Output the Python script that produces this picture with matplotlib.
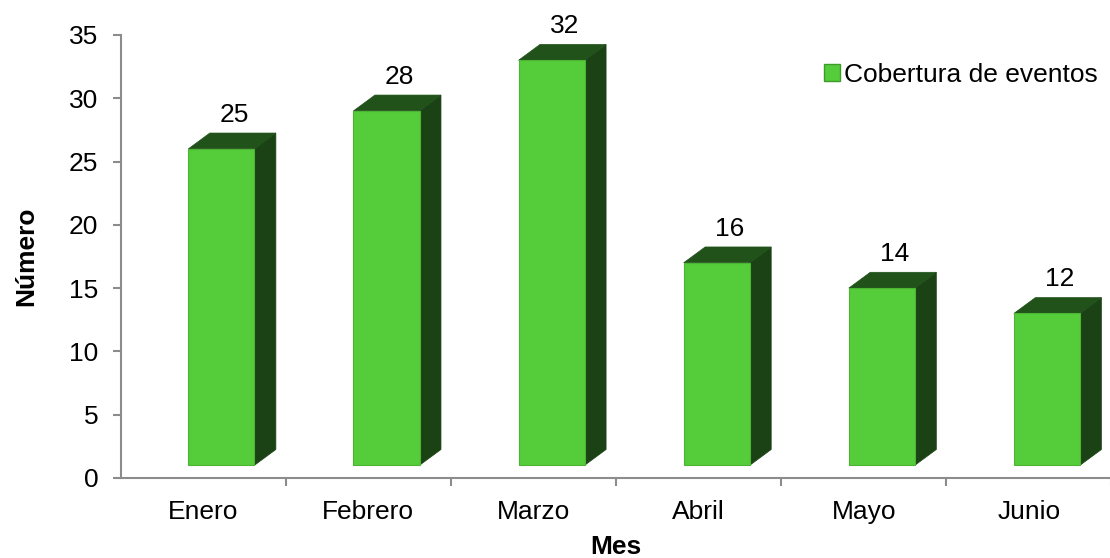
import matplotlib
matplotlib.use("Agg")
import matplotlib.pyplot as plt
from matplotlib.patches import Polygon, Patch

plt.rcParams['font.family'] = ['Liberation Sans', 'DejaVu Sans']

# datos
meses = ["Enero", "Febrero", "Marzo", "Abril", "Mayo", "Junio"]
valores = [25, 28, 32, 16, 14, 12]
serie = "Cobertura de eventos"

# colores de las caras del prisma
c_front = "#55cc3a"
c_top = "#20521a"
c_side = "#1b4214"
c_axis = "#8c8c8c"

# geometria de la barra "3D" (estilo Excel)
base = 1.0      # la cara frontal arranca un poco por encima de 0
x0, x1 = -0.09, 0.31   # cara frontal relativa al centro de categoria
dx, dy = 0.13, 1.25    # profundidad
fs = 19

fig = plt.figure(figsize=(11.1, 5.58), dpi=100)
ax = fig.add_axes([0.1087, 0.1434, 0.8925, 0.794])

for i, v in enumerate(valores):
    top = v + base
    front = Polygon([(i + x0, base), (i + x1, base), (i + x1, top), (i + x0, top)],
                    closed=True, fc=c_front, ec="#4bb533", lw=0.8, zorder=3)
    side = Polygon([(i + x1, base), (i + x1 + dx, base + dy), (i + x1 + dx, top + dy), (i + x1, top)],
                   closed=True, fc=c_side, ec=c_side, lw=0.5, zorder=2)
    tapa = Polygon([(i + x0, top), (i + x1, top), (i + x1 + dx, top + dy), (i + x0 + dx, top + dy)],
                   closed=True, fc=c_top, ec=c_top, lw=0.5, zorder=2)
    for p in (side, tapa, front):
        ax.add_patch(p)
    ax.text(i + 0.19, v + 3.7, str(v), ha="center", va="center", fontsize=fs, color="black")

ax.set_xlim(-0.5, 5.5)
ax.set_ylim(0, 35)
ax.set_yticks(range(0, 36, 5))
ax.set_xticks(range(len(meses)))
ax.set_xticklabels(meses)
ax.set_xticks([i + 0.5 for i in range(len(meses))], minor=True)
ax.tick_params(axis="x", which="major", length=0, pad=16, labelsize=fs)
ax.tick_params(axis="x", which="minor", length=6, color=c_axis, width=1.5)
ax.tick_params(axis="y", length=6, color=c_axis, width=1.5, pad=10, labelsize=fs)

for s in ("top", "right"):
    ax.spines[s].set_visible(False)
for s in ("left", "bottom"):
    ax.spines[s].set_color(c_axis)
    ax.spines[s].set_linewidth(1.5)

ax.set_xlabel("Mes", fontsize=fs, fontweight="bold", labelpad=8)
ax.set_ylabel("Número", fontsize=fs, fontweight="bold", labelpad=22)

handle = Patch(facecolor=c_front, edgecolor="#3f9a2c", label=serie)
ax.legend(handles=[handle], loc="center left", bbox_to_anchor=(0.71, 0.91),
          frameon=False, fontsize=fs, handlelength=0.6, handleheight=0.6,
          handletextpad=0.15, borderpad=0, borderaxespad=0)

fig.savefig("out.png", dpi=100)
